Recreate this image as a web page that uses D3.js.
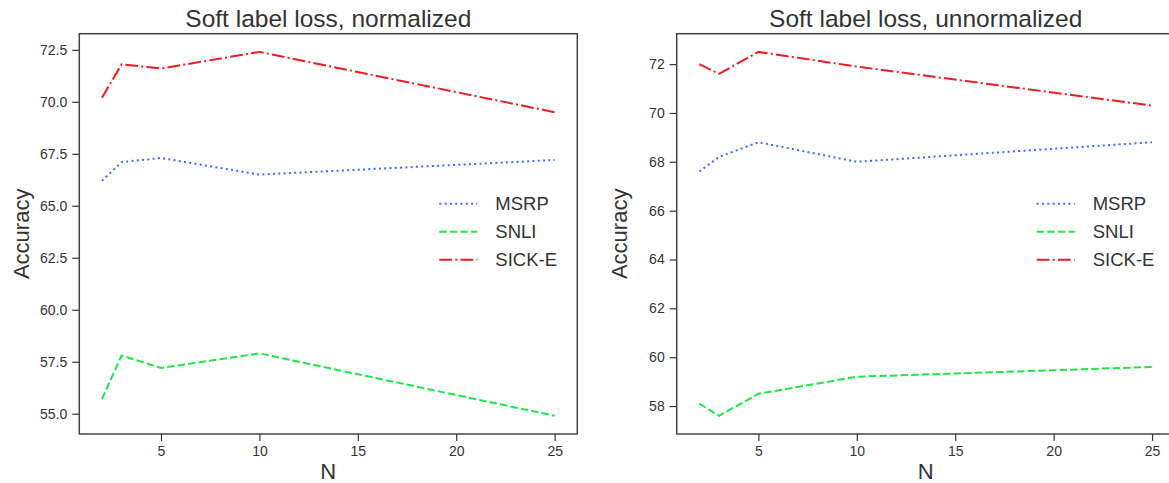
<!DOCTYPE html>
<html>
<head>
<meta charset="utf-8">
<script src="https://cdn.jsdelivr.net/npm/d3@7"></script>
<style>
  body { margin: 0; background: #fff; }
  svg { display: block; font-family: "Liberation Sans", Arial, sans-serif; }
  .tick text { fill: #333; font-size: 14px; }
  .tick line { stroke: #333; stroke-width: 1.2; }
  .title { fill: #333; font-size: 24.5px; }
  .alabel { fill: #333; font-size: 22px; }
  .legtext { fill: #333; font-size: 18.5px; }
</style>
</head>
<body>
<svg width="1169" height="483"></svg>
<script>
// data
var nValues = [2, 3, 5, 10, 25];
var seriesNames = ["MSRP", "SNLI", "SICK-E"];

var normMSRP = [66.2, 67.1, 67.3, 66.5, 67.2];
var normSNLI = [55.7, 57.8, 57.2, 57.9, 54.9];
var normSICK = [70.2, 71.8, 71.6, 72.4, 69.5];

var unnormMSRP = [67.6, 68.2, 68.8, 68.0, 68.8];
var unnormSNLI = [58.1, 57.6, 58.5, 59.2, 59.6];
var unnormSICK = [72.0, 71.6, 72.5, 71.9, 70.3];

var xTicks = [5, 10, 15, 20, 25];
var normYTicks = [55.0, 57.5, 60.0, 62.5, 65.0, 67.5, 70.0, 72.5];
var unnormYTicks = [58, 60, 62, 64, 66, 68, 70, 72];

var colors = ["#3e68ff", "#1ee845", "#ee1b23"];
var dashes = ["2,3.3", "7.4,3.2", "12.8,3.2,2,3.2"];

var svg = d3.select("svg");
var pw = 498, ph = 400.3, plotTop = 33.7;

function panel(left, title, series, yTicks, fmt) {
  var g = svg.append("g").attr("transform", "translate(" + left + "," + plotTop + ")");

  var xs = d3.scaleLinear().domain([2 - 1.15, 25 + 1.15]).range([0, pw]);
  var all = d3.merge(series);
  var lo = d3.min(all), hi = d3.max(all), pad = (hi - lo) * 0.05;
  var ys = d3.scaleLinear().domain([lo - pad, hi + pad]).range([ph, 0]);

  var xa = d3.axisBottom(xs).tickValues(xTicks).tickSize(7).tickPadding(5);
  var ya = d3.axisLeft(ys).tickValues(yTicks).tickFormat(d3.format(fmt)).tickSize(7).tickPadding(5);

  g.append("g").attr("transform", "translate(0," + ph + ")").call(xa)
    .call(function(s) { s.select(".domain").remove(); });
  g.append("g").call(ya)
    .call(function(s) { s.select(".domain").remove(); });

  var line = d3.line()
    .x(function(d, i) { return xs(nValues[i]); })
    .y(function(d) { return ys(d); });

  series.forEach(function(vals, k) {
    g.append("path")
      .attr("d", line(vals))
      .attr("fill", "none")
      .attr("stroke", colors[k])
      .attr("stroke-width", 2)
      .attr("stroke-dasharray", dashes[k]);
  });

  g.append("rect")
    .attr("width", pw).attr("height", ph)
    .attr("fill", "none").attr("stroke", "#444").attr("stroke-width", 1.5);

  // legend
  var leg = g.append("g").attr("transform", "translate(360,170)");
  seriesNames.forEach(function(name, k) {
    leg.append("line")
      .attr("x1", 0).attr("x2", 38)
      .attr("y1", k * 28).attr("y2", k * 28)
      .attr("stroke", colors[k]).attr("stroke-width", 2)
      .attr("stroke-dasharray", dashes[k]);
    leg.append("text").attr("class", "legtext")
      .attr("x", 56).attr("y", k * 28).attr("dy", "0.36em")
      .text(name);
  });

  g.append("text").attr("class", "title")
    .attr("x", pw / 2).attr("y", -7).attr("text-anchor", "middle")
    .text(title);
  g.append("text").attr("class", "alabel")
    .attr("x", pw / 2).attr("y", ph + 45).attr("text-anchor", "middle")
    .text("N");
  g.append("text").attr("class", "alabel")
    .attr("transform", "translate(-50," + (ph / 2) + ") rotate(-90)")
    .attr("text-anchor", "middle")
    .text("Accuracy");
}

panel(79.3, "Soft label loss, normalized", [normMSRP, normSNLI, normSICK], normYTicks, ".1f");
panel(676.7, "Soft label loss, unnormalized", [unnormMSRP, unnormSNLI, unnormSICK], unnormYTicks, "d");
</script>
</body>
</html>
